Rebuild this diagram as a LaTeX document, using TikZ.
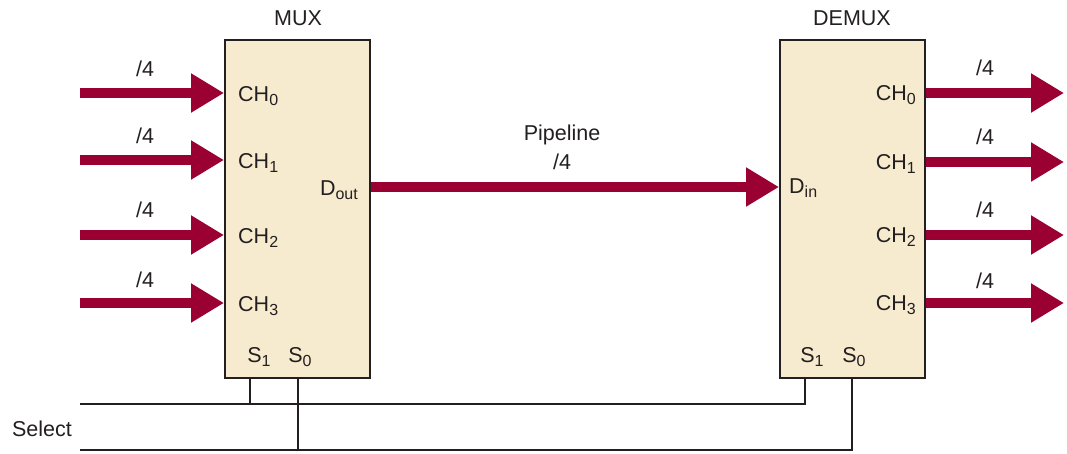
\documentclass[tikz,border=0pt]{standalone}
\usepackage{fontspec}
\setmainfont{Liberation Sans}
\usetikzlibrary{arrows.meta}
\definecolor{buscol}{HTML}{9B0032}
\definecolor{boxfill}{HTML}{F7EBCF}
\definecolor{edgecol}{HTML}{231F20}
\newcommand\sbs[1]{\raisebox{-0.2em}{\fontsize{16}{16}\selectfont #1}}
\begin{document}
\begin{tikzpicture}[x=1pt,y=-1pt,
  font=\fontsize{21.5}{25}\selectfont,
  unitbox/.style={draw=edgecol, line width=2pt, fill=boxfill, minimum width=145pt, minimum height=338pt, inner sep=0pt},
  busarrow/.style={draw=buscol, line width=10pt, -{Triangle[width=37pt,length=33pt]}},
  selline/.style={draw=edgecol, line width=2pt},
  lbl/.style={inner sep=0pt, text=edgecol}]
\useasboundingbox (0,0) rectangle (1067,453);

% boxes
\node[unitbox] (mux) at (297.5,209) {};
\node[unitbox] (demux) at (852.5,209) {};
\node[lbl] (muxt) at (298,18) {MUX};
\node[lbl] (demuxt) at (852,18) {DEMUX};

% MUX inputs
\foreach \i/\y/\ly in {0/93/69,1/160/136,2/235/210,3/303/280}{
  \coordinate (in\i) at (80,\y);
  \draw[busarrow] (in\i) -- (mux.west |- in\i);
  \node[lbl] (inl\i) at (145,\ly) {/4};
  \node[lbl, anchor=west] (mch\i) at (238,\y+3) {CH\sbs{\i}};
}

% DEMUX outputs
\foreach \i/\y/\ly in {0/93/68,1/162/137,2/235/210,3/303/281}{
  \coordinate (out\i) at (1064,\y);
  \draw[busarrow] (demux.east |- out\i) -- (out\i);
  \node[lbl] (outl\i) at (985,\ly) {/4};
  \node[lbl, anchor=east] (dch\i) at (916,\y+2) {CH\sbs{\i}};
}

% pipeline
\coordinate (pin) at (780,187);
\draw[busarrow] (mux.east |- pin) -- (demux.west |- pin);
\node[lbl] (pipe) at (562,135) {Pipeline};
\node[lbl] (pipel) at (562,162) {/4};
\node[lbl, anchor=east] (dout) at (358,190) {D\sbs{out}};
\node[lbl, anchor=west] (din) at (789,188) {D\sbs{in}};

% select labels
\node[lbl] (ms1l) at (259,357) {S\sbs{1}};
\node[lbl] (ms0l) at (300,357) {S\sbs{0}};
\node[lbl] (ds1l) at (812,357) {S\sbs{1}};
\node[lbl] (ds0l) at (854,357) {S\sbs{0}};

% select lines
\coordinate (ms1) at (250,378);
\coordinate (ms0) at (298,378);
\coordinate (ds1) at (805,378);
\coordinate (ds0) at (852,378);
\coordinate (sela) at (80,404);
\coordinate (selb) at (80,450);
\draw[selline] (sela) -| (ds1);
\draw[selline] (selb) -| (ds0);
\draw[selline] (ms1) -- (ms1 |- sela);
\draw[selline] (ms0) -- (ms0 |- selb);
\node[lbl] (select) at (42,429) {Select};
\end{tikzpicture}
\end{document}
